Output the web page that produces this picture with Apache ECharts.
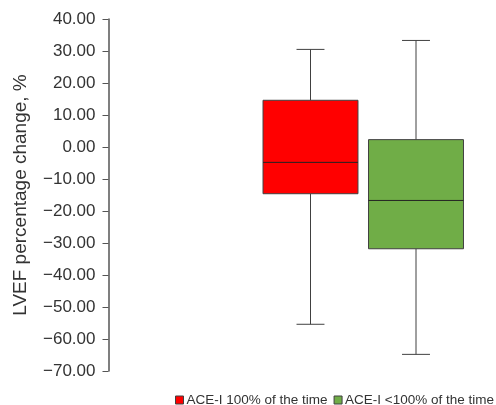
<!DOCTYPE html>
<html>
<head>
<meta charset="utf-8">
<script src="https://cdn.jsdelivr.net/npm/echarts@6/dist/echarts.min.js"></script>
<style>html,body{margin:0;padding:0;background:#fff;}#c{width:496px;height:405px;}</style>
</head>
<body>
<div id="c"></div>
<script>
const categories = ['ACE-I 100% of the time', 'ACE-I <100% of the time'];
const whiskerMin = [-55.4, -64.8];
const q1 = [-14.6, -31.8];
const median = [-4.8, -16.7];
const q3 = [14.6, 2.3];
const whiskerMax = [30.5, 33.3];
const colors = ['#FF0000', '#70AD47'];
const yTicks = [-70, -60, -50, -40, -30, -20, -10, 0, 10, 20, 30, 40];

const chart = echarts.init(document.getElementById('c'), null, {renderer: 'canvas'});
const FONT = 'Liberation Sans, Arial, sans-serif';
const STROKE = '#404040';

function renderItem(params, api) {
  const x = api.value(0);
  const pMin = api.coord([x, api.value(1)]);
  const pQ1 = api.coord([x, api.value(2)]);
  const pMed = api.coord([x, api.value(3)]);
  const pQ3 = api.coord([x, api.value(4)]);
  const pMax = api.coord([x, api.value(5)]);
  const band = api.size([1, 0])[0];
  const bw = band * 0.9;
  const cw = band * 0.265;
  const cx = pMed[0];
  const ls = {stroke: STROKE, lineWidth: 1};
  return {
    type: 'group',
    children: [
      {type: 'line', shape: {x1: cx, y1: pMax[1], x2: cx, y2: pQ3[1]}, style: ls},
      {type: 'line', shape: {x1: cx, y1: pQ1[1], x2: cx, y2: pMin[1]}, style: ls},
      {type: 'line', shape: {x1: cx - cw / 2, y1: pMax[1], x2: cx + cw / 2, y2: pMax[1]}, style: ls},
      {type: 'line', shape: {x1: cx - cw / 2, y1: pMin[1], x2: cx + cw / 2, y2: pMin[1]}, style: ls},
      {type: 'rect', shape: {x: cx - bw / 2, y: pQ3[1], width: bw, height: pQ1[1] - pQ3[1]},
        style: {fill: api.visual('color'), stroke: STROKE, lineWidth: 1}},
      {type: 'line', shape: {x1: cx - bw / 2, y1: pMed[1], x2: cx + bw / 2, y2: pMed[1]}, style: {stroke: '#222', lineWidth: 1}}
    ]
  };
}

const series = categories.map((name, i) => ({
  name: name,
  type: 'custom',
  renderItem: renderItem,
  itemStyle: {color: colors[i]},
  encode: {x: 0, y: [1, 2, 3, 4, 5]},
  data: [[i, whiskerMin[i], q1[i], median[i], q3[i], whiskerMax[i]]]
}));

const gridLeft = 257.75;
const axisX = 108.5;

chart.setOption({
  animation: false,
  grid: {left: gridLeft, right: 27.25, top: 19, bottom: 34},
  legend: {
    data: categories.map((n) => ({name: n, icon: 'rect'})),
    left: 175, top: 393,
    itemWidth: 8, itemHeight: 8, itemGap: 6,
    itemStyle: {borderColor: STROKE, borderWidth: 1},
    textStyle: {fontFamily: FONT, fontSize: 13.5, color: '#333', padding: [0, 0, 0, -2]},
    padding: 0
  },
  xAxis: {
    type: 'category', data: categories, boundaryGap: true,
    show: false
  },
  yAxis: {
    type: 'value', min: -70, max: 40, interval: 10,
    offset: gridLeft - axisX,
    name: 'LVEF percentage change, %', nameLocation: 'middle', nameGap: 78,
    nameTextStyle: {fontFamily: FONT, fontSize: 19, color: '#333'},
    axisLine: {show: true, lineStyle: {color: '#555', width: 1.5}},
    axisTick: {show: true, inside: false, length: 6, lineStyle: {color: '#555', width: 1}},
    axisLabel: {
      fontFamily: FONT, fontSize: 17, color: '#333', margin: 13,
      formatter: (v) => (v < 0 ? '\u2212' + Math.abs(v).toFixed(2) : v.toFixed(2))
    },
    splitLine: {show: false}
  },
  series: series
});
</script>
</body>
</html>
